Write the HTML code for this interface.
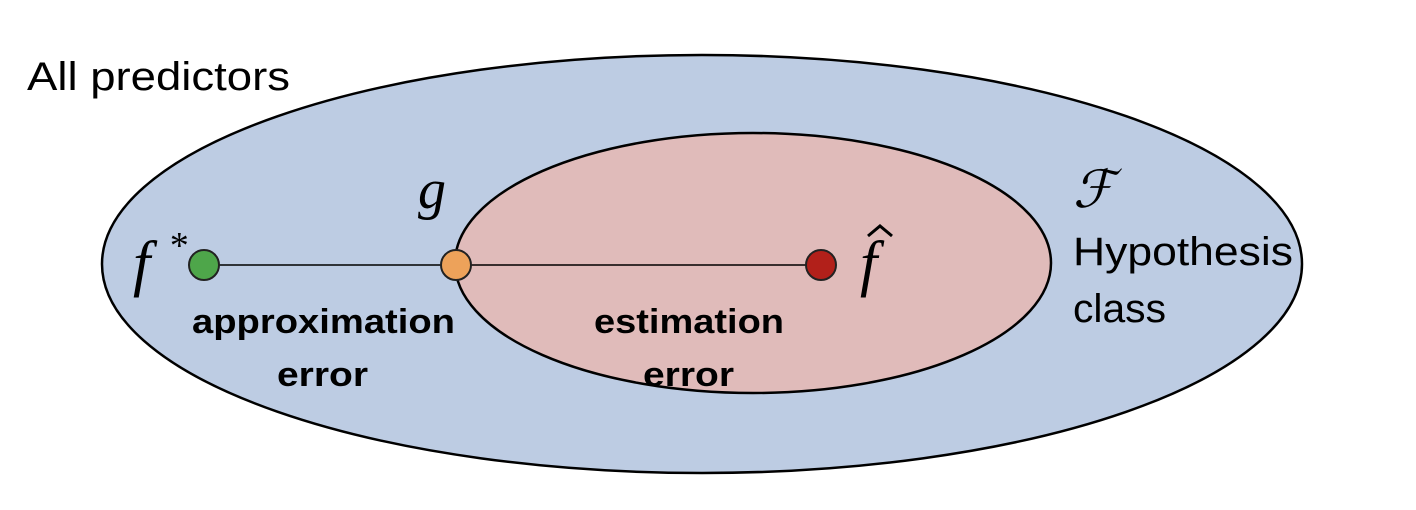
<!DOCTYPE html>
<html><head><meta charset="utf-8"><style>
html,body{margin:0;padding:0;background:#fff;}
svg{display:block;}
</style></head><body>
<svg width="1416" height="510" viewBox="0 0 1416 510" xmlns="http://www.w3.org/2000/svg">
<rect width="1416" height="510" fill="#fff"/>
<ellipse cx="702" cy="264" rx="600" ry="209" fill="#bdcce3" stroke="#000" stroke-width="2.5"/>
<ellipse cx="753" cy="263" rx="298" ry="130" fill="#e0bbba" stroke="#000" stroke-width="2.5"/>
<line x1="204" y1="265" x2="821" y2="265" stroke="#000" stroke-width="1.5"/>
<circle cx="204" cy="265" r="15" fill="#4ea64a" stroke="#222" stroke-width="2"/>
<circle cx="456" cy="265" r="15" fill="#eda25a" stroke="#222" stroke-width="2"/>
<circle cx="821" cy="265" r="15" fill="#b2201a" stroke="#222" stroke-width="2"/>
<g font-family="Liberation Sans, sans-serif" fill="#000">
<text x="27" y="90" font-size="40" textLength="263" lengthAdjust="spacingAndGlyphs">All predictors</text>
<text x="1073" y="265" font-size="40" textLength="220" lengthAdjust="spacingAndGlyphs">Hypothesis</text>
<text x="1073" y="322" font-size="40" textLength="93" lengthAdjust="spacingAndGlyphs">class</text>
<g font-weight="bold" font-size="34">
<text x="192" y="333" textLength="263" lengthAdjust="spacingAndGlyphs">approximation</text>
<text x="277" y="386" textLength="91" lengthAdjust="spacingAndGlyphs">error</text>
<text x="594" y="333" textLength="190" lengthAdjust="spacingAndGlyphs">estimation</text>
<text x="643" y="386" textLength="91" lengthAdjust="spacingAndGlyphs">error</text>
</g>
</g>
<g font-family="Liberation Serif, serif" font-style="italic" fill="#000">
<text x="133" y="284" font-size="62">f</text>
<text x="168" y="258" font-size="38">*</text>
<text x="418" y="208" font-size="56">g</text>
<text x="860" y="284" font-size="62">f</text>
<text x="1073" y="207" font-size="52" font-family="DejaVu Serif, serif">ℱ</text>
</g>
<path d="M868 236 L880 226 L892 236" fill="none" stroke="#000" stroke-width="3"/>
</svg>
</body></html>
